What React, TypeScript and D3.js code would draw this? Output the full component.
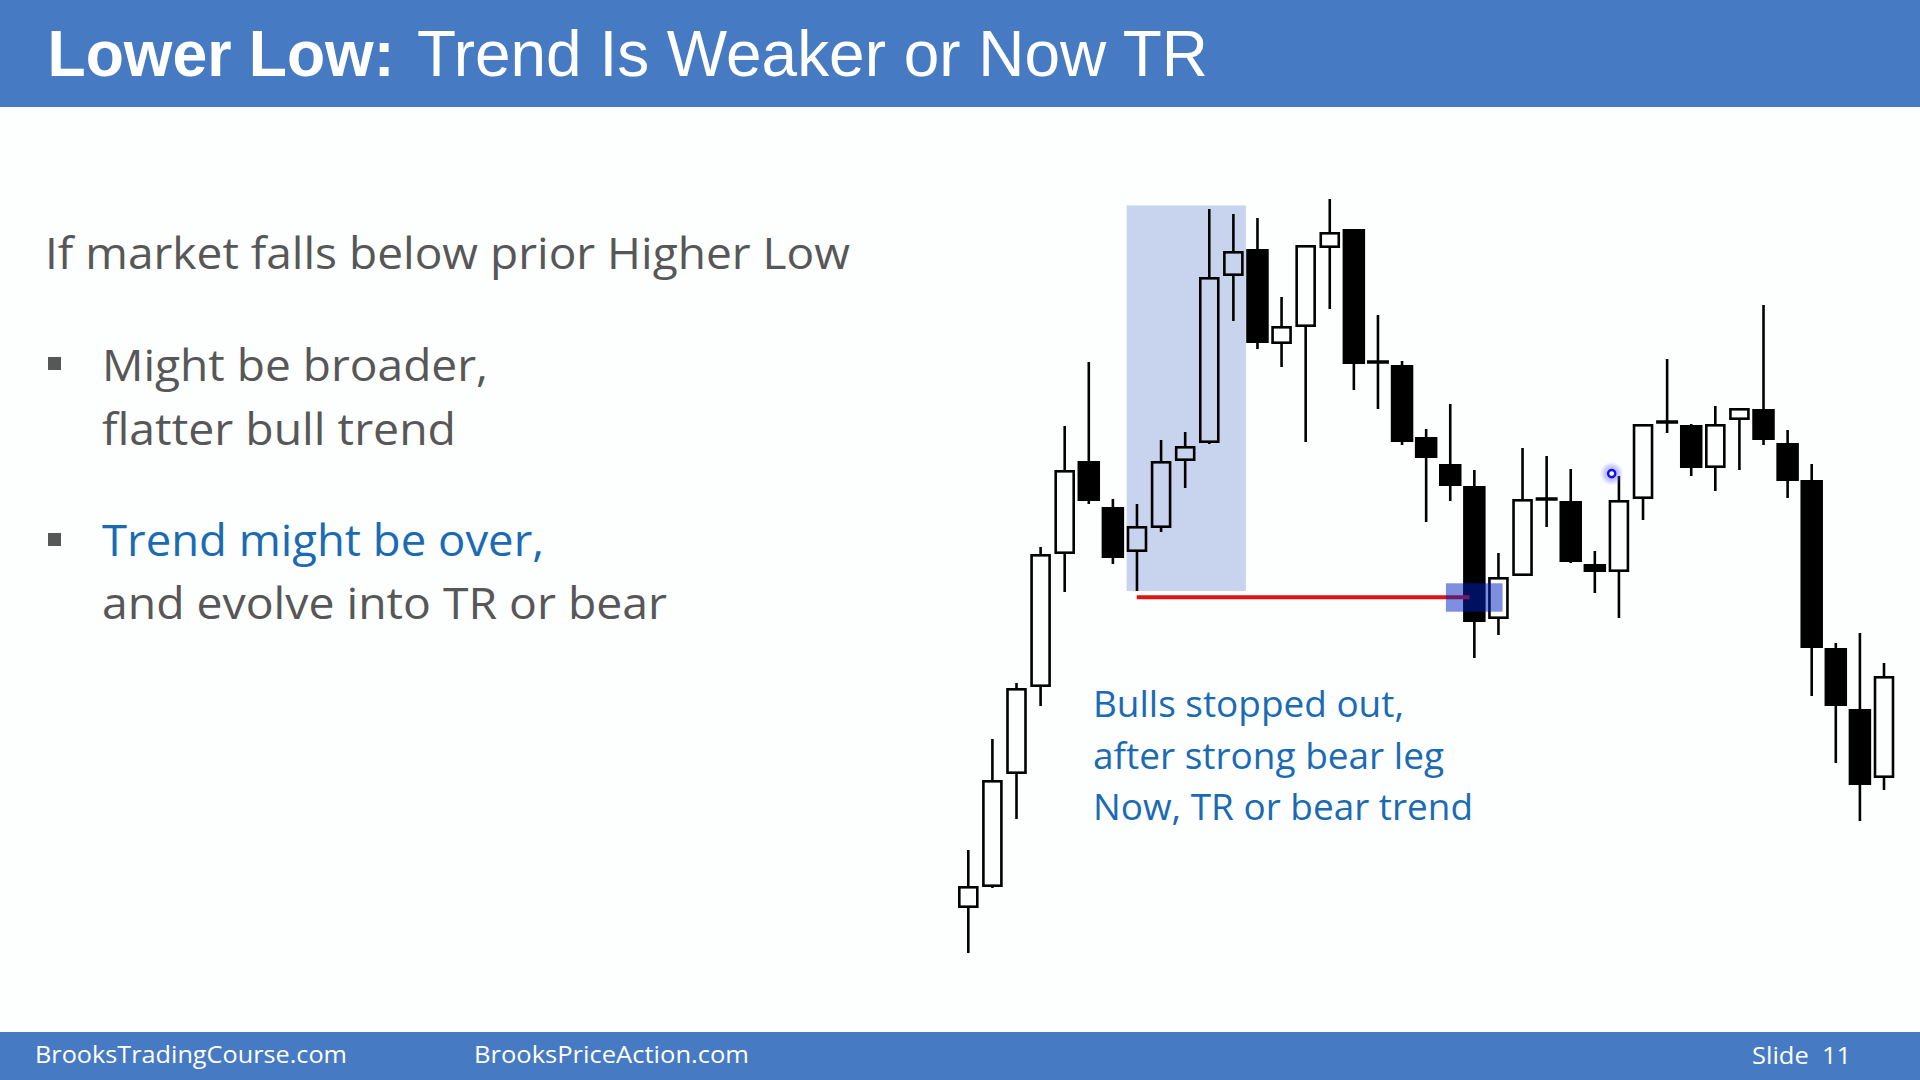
import React from 'react';
import * as d3 from 'd3';

// ---- Candle data (price units) ----
const candleOpen = [92, 113, 226, 313, 446, 539, 493, 448, 472, 539, 557, 724, 751, 656, 673, 752, 771, 638, 635, 563, 536, 514, 381, 424, 501, 499, 436, 428, 501, 578, 575, 532, 580, 591, 557, 520, 352, 291, 222];
const candleClose = [114, 220, 312, 446, 530, 499, 442, 474, 539, 554, 723, 749, 657, 674, 755, 768, 636, 638, 558, 542, 514, 378, 423, 501, 501, 438, 428, 500, 576, 578, 532, 576, 592, 560, 519, 352, 294, 215, 324];
const candleHigh = [150, 261, 317, 453, 574, 638, 501, 496, 560, 568, 791, 786, 782, 703, 755, 801, 771, 685, 639, 571, 596, 530, 447, 552, 544, 531, 449, 524, 576, 641, 576, 594, 592, 695, 570, 536, 357, 367, 337];
const candleLow = [47, 112, 181, 294, 408, 496, 436, 409, 468, 512, 556, 679, 651, 633, 558, 691, 610, 591, 555, 478, 499, 342, 365, 424, 473, 437, 407, 382, 480, 567, 524, 509, 530, 555, 502, 304, 237, 179, 210];

// ---- Annotations (bar index / price units) ----
const shadeBars = [6.57, 11.52];
const shadePrices = [409, 794.5];
const supportLineBars = [6.99, 20.8];
const supportLinePrice = 402.7;
const highlightBars = [19.82, 22.17];
const highlightPrices = [388.3, 416.7];
const cursorPoint = [26.7, 526.4];

// ---- Texts ----
const titleBold = 'Lower Low:';
const titleRest = 'Trend Is Weaker or Now TR';
const introLine = 'If market falls below prior Higher Low';
const bullet1Lines = ['Might be broader,', 'flatter bull trend'];
const bullet2Lines = ['Trend might be over,', 'and evolve into TR or bear'];
const noteLines = ['Bulls stopped out,', 'after strong bear leg', 'Now, TR or bear trend'];
const footerLeft = 'BrooksTradingCourse.com';
const footerMid = 'BrooksPriceAction.com';
const footerRight = 'Slide\u00a0\u00a011';

const W = 1920;
const H = 1080;
const BLUE_BAR = '#467ac3';
const GRAY = '#575757';
const TEXT_BLUE = '#1a6ab4';
const BODY_FONT = "'Open Sans', 'Noto Sans', sans-serif";

export default function App() {
  const x = d3.scaleLinear().domain([0, candleOpen.length - 1]).range([968.3, 1884]);
  const y = d3.scaleLinear().domain([0, 800]).range([1000, 200]);
  const sw = 2.6;

  const candles = candleOpen.map((o, i) => {
    const c = candleClose[i];
    const hi = candleHigh[i];
    const lo = candleLow[i];
    const cx = x(i);
    const top = y(Math.max(o, c));
    const bot = y(Math.min(o, c));
    const parts: React.ReactNode[] = [];
    if (o === c) {
      parts.push(<line key="w" x1={cx} x2={cx} y1={y(hi)} y2={y(lo)} stroke="#000" strokeWidth={sw} />);
      parts.push(<line key="d" x1={cx - 11} x2={cx + 11} y1={top} y2={top} stroke="#000" strokeWidth={3.5} />);
    } else {
      if (y(hi) < top) parts.push(<line key="u" x1={cx} x2={cx} y1={y(hi)} y2={top} stroke="#000" strokeWidth={sw} />);
      if (y(lo) > bot) parts.push(<line key="l" x1={cx} x2={cx} y1={bot} y2={y(lo)} stroke="#000" strokeWidth={sw} />);
      if (c > o) {
        parts.push(<rect key="b" x={cx - 9} y={top + sw / 2} width={18} height={Math.max(bot - top - sw, 0.5)} fill="none" stroke="#000" strokeWidth={sw} />);
      } else {
        parts.push(<rect key="b" x={cx - 11.25} y={top} width={22.5} height={bot - top} fill="#000" />);
      }
    }
    return <g key={i}>{parts}</g>;
  });

  return (
    <svg width={W} height={H} viewBox={`0 0 ${W} ${H}`} style={{ position: 'absolute', left: 0, top: 0, display: 'block' }}>
      <defs>
        <radialGradient id="cursorGlow">
          <stop offset="0%" stopColor="#5050ff" stopOpacity={0.55} />
          <stop offset="60%" stopColor="#6a6aff" stopOpacity={0.35} />
          <stop offset="100%" stopColor="#8a8aff" stopOpacity={0} />
        </radialGradient>
      </defs>
      <rect x={0} y={0} width={W} height={H} fill="#fdfefe" />
      {/* header */}
      <rect x={0} y={0} width={W} height={107} fill={BLUE_BAR} />
      <text x={47.5} y={76} fill="#fff" fontFamily="'Liberation Sans', Arial, sans-serif" fontWeight="bold" fontSize={65} textLength={347} lengthAdjust="spacingAndGlyphs">{titleBold}</text>
      <text x={417} y={76} fill="#fff" fontFamily="'Liberation Sans', Arial, sans-serif" fontSize={65} textLength={791} lengthAdjust="spacingAndGlyphs">{titleRest}</text>

      {/* left text */}
      <text x={45} y={269.3} fill={GRAY} fontFamily={BODY_FONT} fontSize={43.5} textLength={805} lengthAdjust="spacingAndGlyphs">{introLine}</text>
      <rect x={48} y={357} width={13} height={13} fill={GRAY} />
      <text x={102} y={381} fill={GRAY} fontFamily={BODY_FONT} fontSize={43.5} textLength={386} lengthAdjust="spacingAndGlyphs">{bullet1Lines[0]}</text>
      <text x={102} y={445} fill={GRAY} fontFamily={BODY_FONT} fontSize={43.5} textLength={354} lengthAdjust="spacingAndGlyphs">{bullet1Lines[1]}</text>
      <rect x={48} y={533} width={13} height={13} fill={GRAY} />
      <text x={102} y={556} fill={TEXT_BLUE} fontFamily={BODY_FONT} fontSize={43.5} textLength={442} lengthAdjust="spacingAndGlyphs">{bullet2Lines[0]}</text>
      <text x={102} y={619.3} fill={GRAY} fontFamily={BODY_FONT} fontSize={43.5} textLength={565} lengthAdjust="spacingAndGlyphs">{bullet2Lines[1]}</text>

      {/* chart */}
      <rect x={x(shadeBars[0])} y={y(shadePrices[1])} width={x(shadeBars[1]) - x(shadeBars[0])} height={y(shadePrices[0]) - y(shadePrices[1])} fill="#c8d4ed" />
      {candles}
      <line x1={x(supportLineBars[0])} x2={x(supportLineBars[1])} y1={y(supportLinePrice)} y2={y(supportLinePrice)} stroke="#e01414" strokeWidth={4} />
      <rect x={x(highlightBars[0])} y={y(highlightPrices[1])} width={x(highlightBars[1]) - x(highlightBars[0])} height={y(highlightPrices[0]) - y(highlightPrices[1])} fill="#0020c0" fillOpacity={0.5} />
      <circle cx={x(cursorPoint[0])} cy={y(cursorPoint[1])} r={12} fill="url(#cursorGlow)" />
      <circle cx={x(cursorPoint[0])} cy={y(cursorPoint[1])} r={3.6} fill="#fff" stroke="#1010f0" strokeWidth={2.4} />

      {/* note */}
      {noteLines.map((t, i) => (
        <text key={i} x={1093} y={[717.3, 769.3, 820][i]} fill={TEXT_BLUE} fontFamily={BODY_FONT} fontSize={37.3} textLength={[311, 351, 380][i]} lengthAdjust="spacingAndGlyphs">{t}</text>
      ))}

      {/* footer */}
      <rect x={0} y={1032} width={W} height={48} fill={BLUE_BAR} />
      <text x={35} y={1063} fill="#fff" fontFamily={BODY_FONT} fontSize={24.5} textLength={312} lengthAdjust="spacingAndGlyphs">{footerLeft}</text>
      <text x={474} y={1063} fill="#fff" fontFamily={BODY_FONT} fontSize={24.5} textLength={275} lengthAdjust="spacingAndGlyphs">{footerMid}</text>
      <text x={1752} y={1064} fill="#fff" fontFamily={BODY_FONT} fontSize={24.5} textLength={99} lengthAdjust="spacingAndGlyphs">{footerRight}</text>
    </svg>
  );
}
